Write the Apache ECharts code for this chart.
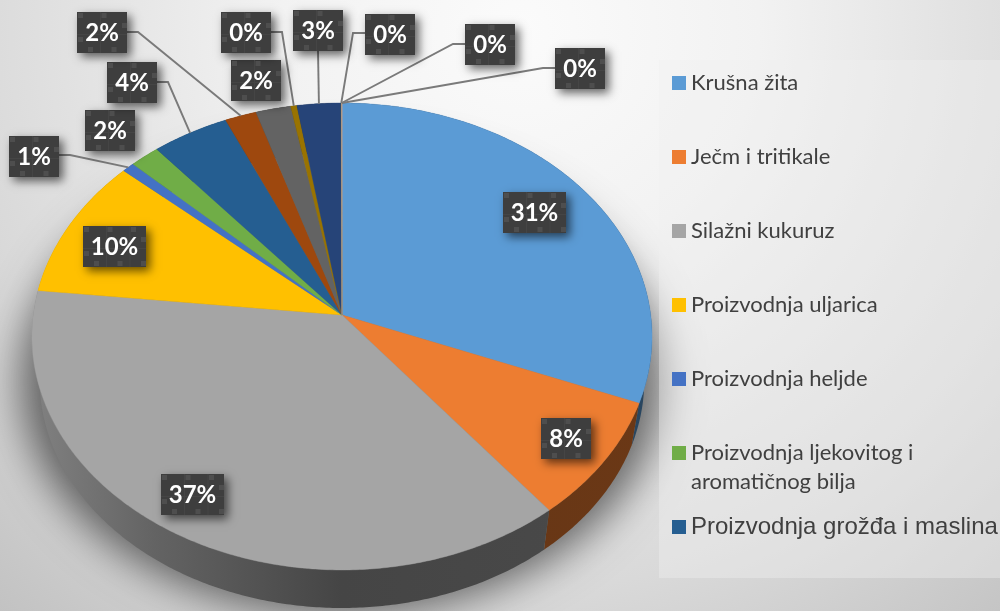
<!DOCTYPE html>
<html><head><meta charset="utf-8">
<style>html,body{margin:0;padding:0;background:#ddd}#c{width:1000px;height:611px}</style>
<script src="https://cdn.jsdelivr.net/npm/echarts@6/dist/echarts.min.js"></script>
</head><body><div id="c"></div>
<script>
// ---- data ----
const legendNames = ['Krušna žita','Ječm i tritikale','Silažni kukuruz','Proizvodnja uljarica','Proizvodnja heljde','Proizvodnja ljekovitog i\naromatičnog bilja','Proizvodnja grožđa i maslina'];
const sliceValues = [31.0, 8.3, 37.4, 9.8, 0.7, 1.7, 4.4, 1.8, 2.0, 0.35, 2.5, 0.02, 0.02, 0.01];
const sliceColors = ['#5B9BD5','#ED7D31','#A5A5A5','#FFC000','#4472C4','#70AD47','#255E91','#9E480E','#636363','#997300','#264478','#43682B','#7CAFDD','#F1975A'];

// ---- layout (not data) ----
const GEO = {cx:342, cy:315, A:308.7, B:231.5, p:0.092, wallS:0.975, wallD:44.4};
const LABEL_BOX = [[503,192],[541,418],[161,474],[83,226],[9,136],[85,110],[107,62],[77,12],[231,60],[221,12],[293,10],[365,14],[465,24],[555,48]];
const LEADER = [null,null,null,null,[[59,155],[70,155]],null,[[157,82],[168,82]],[[127,32],[138,32]],null,[[271,32],[282,32]],[[318,51]],[[365,33],[353,33]],[[465,44],[453,44]],[[555,68],[543,68]]];
const LEGEND_Y = [83,157,231,305,379,453,527];

function rim(t,s,d){
  const u=Math.sin(t), v=-Math.cos(t), den=1-GEO.p*v;
  return [GEO.cx+GEO.A*u/den*s, GEO.cy+d+GEO.B*v/den*s];
}
function arc(a,b,s,d){
  const n=Math.max(2,Math.ceil((b-a)/0.01)), pts=[];
  for(let i=0;i<=n;i++) pts.push(rim(a+(b-a)*i/n,s,d));
  return pts;
}
function shade(hex,f){
  const n=parseInt(hex.slice(1),16);
  return 'rgb('+[(n>>16)&255,(n>>8)&255,n&255].map(c=>Math.round(c*f)).join(',')+')';
}
const total = sliceValues.reduce((a,b)=>a+b,0);
let acc=0;
const ranges = sliceValues.map(v=>{const a=acc;acc+=v;return [a/total*2*Math.PI,acc/total*2*Math.PI];});

function labelBox(i,text){
  const [x,y]=LABEL_BOX[i], w=text.length>2?63:50, h=41, kids=[];
  kids.push({type:'rect',z2:30,shape:{x,y,width:w,height:h},style:{fill:'#3e3e3e',shadowBlur:9,shadowOffsetX:4,shadowOffsetY:4,shadowColor:'rgba(0,0,0,0.6)'}});
  const ln=(sx,sy,lw,lh)=>kids.push({type:'rect',z2:31,shape:{x:x+sx,y:y+sy,width:lw,height:lh},style:{fill:'#454545'}});
  const sq=(sx,sy)=>kids.push({type:'rect',z2:31,shape:{x:x+sx,y:y+sy,width:5,height:5},style:{fill:'#4e4e4e'}});
  for(let k=23;k<w-4;k+=23.5) ln(k,0,1,h);
  ln(0,22,w,1);
  for(let k=1;k<w-4;k+=23.5) sq(k,1);
  for(let k=11;k<w-4;k+=23.5) sq(k,35);
  sq(1,25); sq(w-5,11);
  kids.push({type:'text',z2:32,style:{text,x:x+w/2,y:y+h/2+1,fill:'#fff',font:'bold 24px Lato',align:'center',verticalAlign:'middle'}});
  return kids;
}

function renderSlice(i){
  return function(){
    const [a,b]=ranges[i], col=sliceColors[i], kids=[];
    const top=arc(a,b,1,0), bot=arc(a,b,GEO.wallS,GEO.wallD);
    kids.push({type:'polygon',z2:1,shape:{points:top.concat(bot.slice().reverse())},
      style:{fill:{type:'linear',x:32,y:0,x2:652,y2:0,global:true,colorStops:[
        {offset:0,color:shade(col,0.78)},{offset:0.2,color:shade(col,0.6)},{offset:0.5,color:shade(col,0.42)},{offset:1,color:shade(col,0.45)}]}}});
    kids.push({type:'polygon',z2:10,shape:{points:[[GEO.cx,GEO.cy]].concat(top)},style:{fill:col,stroke:col,lineWidth:0.4}});
    const lead=LEADER[i];
    if(lead){
      kids.push({type:'polyline',z2:20,shape:{points:lead.concat([rim((a+b)/2,1,0)])},style:{fill:null,stroke:'#7a7a7a',lineWidth:1.9}});
    }
    return {type:'group',children:kids.concat(labelBox(i,Math.round(sliceValues[i])+'%'))};
  };
}

function renderBackdrop(){
  const OFF=3000;
  const hull=arc(0,2*Math.PI,1,0).map(p=>[GEO.cx+(p[0]-GEO.cx)*1.035-OFF,GEO.cy+44+(p[1]-GEO.cy)*1.0]);
  return {type:'group',children:[
    {type:'rect',z2:0,shape:{x:0,y:0,width:1000,height:611},style:{fill:{type:'radial',x:520,y:30,r:800,global:true,colorStops:[
      {offset:0,color:'#fbfbfb'},{offset:0.3,color:'#f2f2f2'},{offset:0.7,color:'#d9d9d9'},{offset:1,color:'#c0c0c0'}]}}},
    {type:'polygon',z2:1,shape:{points:hull},style:{fill:'#000',shadowBlur:40,shadowOffsetX:OFF,shadowColor:'rgba(0,0,0,0.55)'}},
    {type:'rect',z2:2,shape:{x:659,y:60,width:341,height:518},style:{fill:'rgba(240,240,240,0.4)'}},
  ]};
}

const series=[{type:'custom',name:'backdrop',coordinateSystem:'none',z:0,silent:true,data:[[0]],renderItem:renderBackdrop}];
sliceValues.forEach((v,i)=>{
  series.push({type:'custom',name:legendNames[i]||('s'+i),coordinateSystem:'none',z:2,silent:true,
    itemStyle:{color:sliceColors[i]},data:[[v]],renderItem:renderSlice(i)});
});
const legends=legendNames.map((n,i)=>{
  const two=n.indexOf('\n')>=0, last=i===legendNames.length-1;
  return {show:true,data:[{name:n,icon:'rect'}],left:672,top:two?LEGEND_Y[i]-43.5:LEGEND_Y[i]-14,orient:'vertical',padding:0,
    itemWidth:14,itemHeight:14,itemGap:0,selectedMode:false,z:5,
    formatter:two?(s=>'\n'+s):undefined,
    textStyle:{color:'#404040',fontFamily:last?'Liberation Sans':'Lato',fontSize:last?24:22,lineHeight:two?29:28,padding:0}};
});
const chart=echarts.init(document.getElementById('c'),null,{renderer:'canvas'});
chart.setOption({animation:false,tooltip:{show:false},legend:legends,series});
</script></body></html>
